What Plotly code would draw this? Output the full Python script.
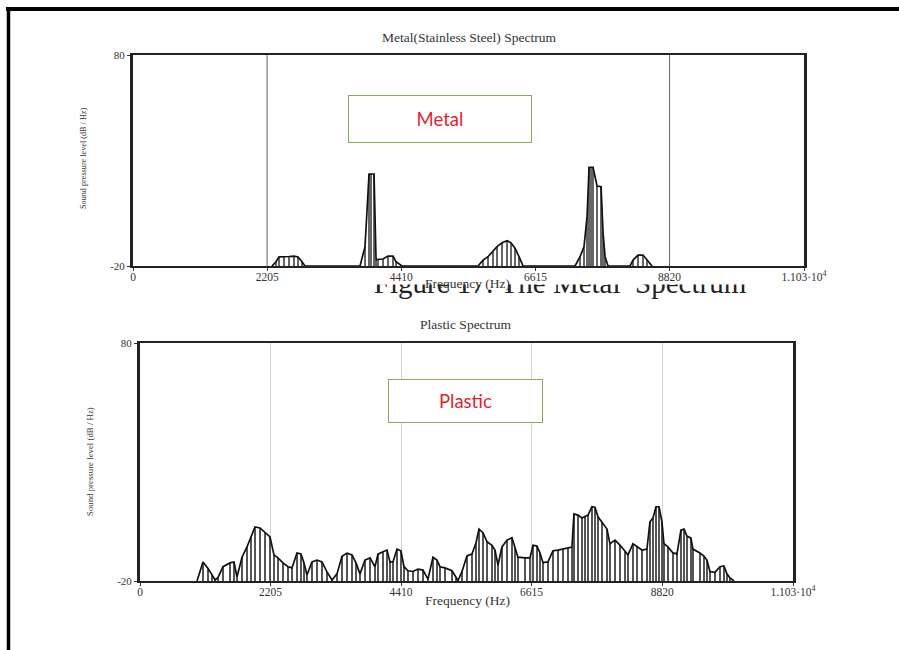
import plotly.graph_objects as go

W, H = 899, 650

# ---------------- data ----------------
x_tick_vals = [0, 2205, 4410, 6615, 8820, 11030]
x_tick_text = ["0", "2205", "4410", "6615", "8820", "1.103·10<sup>4</sup>"]
y_tick_vals = [-20, 80]
y_tick_text = ["-20", "80"]
metal_grid = [2205, 8820]

metal_freq = [2285, 2351, 2400, 2482, 2565, 2647, 2713, 2778, 2828,
              3732, 3814, 3880, 3913, 3962, 3995, 4028, 4110, 4192, 4274, 4324, 4422,
              5672, 5754, 5836, 5918, 5984, 6066, 6149, 6214, 6280, 6346, 6412,
              7266, 7349, 7414, 7464, 7497, 7530, 7562, 7628, 7694, 7727, 7760, 7809,
              8171, 8220, 8302, 8384, 8450, 8532]
metal_db = [-20, -18, -15.7, -15.7, -15.5, -15.3, -15.7, -18, -20,
            -20, -10.8, 23.6, 23.6, 23.6, -17, -17, -16.7, -15.3, -15.3, -18, -20,
            -20, -17.2, -15.6, -13.2, -10.8, -9, -8, -9, -11.6, -15.6, -20,
            -20, -15.6, -10.8, 3.4, 26.8, 26.8, 26.8, 17.9, 17.6, -4.4, -15.6, -20,
            -20, -17.2, -14.8, -14.8, -17.2, -20]

plastic_freq = [963, 1064, 1149, 1216, 1267, 1317, 1402, 1520, 1588, 1638,
                1723, 1807, 1875, 1942, 2027, 2111, 2196, 2263, 2331, 2415,
                2500, 2567, 2652, 2719, 2770, 2821, 2905, 2990, 3074, 3158,
                3243, 3327, 3412, 3496, 3581, 3648, 3716, 3800, 3885, 3969,
                4020, 4104, 4172, 4223, 4273, 4341, 4408, 4459, 4527, 4611,
                4695, 4780, 4864, 4949, 5016, 5067, 5151, 5270, 5337, 5371,
                5439, 5523, 5607, 5675, 5726, 5793, 5861, 5945, 5996, 6047,
                6114, 6199, 6283, 6334, 6384, 6503, 6587, 6638, 6705, 6756,
                6807, 6891, 6976, 7060, 7145, 7229, 7296, 7330, 7398, 7465,
                7516, 7567, 7634, 7685, 7736, 7803, 7888, 7938, 8023, 8107,
                8192, 8242, 8327, 8394, 8479, 8563, 8614, 8665, 8715, 8766,
                8816, 8850, 8918, 9002, 9070, 9137, 9188, 9239, 9306, 9340,
                9458, 9526, 9576, 9627, 9711, 9796, 9863, 9914, 9965, 10033]
plastic_db = [-20, -12, -14.7, -17.5, -19.5, -18.6, -14, -12.4, -12, -18.3,
              -10, -5.7, -1.5, 2.7, 2.3, 0.3, -1.5, -9, -10.3, -12.4,
              -14, -14.5, -8.2, -8.6, -12.4, -17.5, -12, -11.2, -12, -16.2,
              -19.6, -17, -9.6, -8.3, -9, -12.4, -17, -11.2, -10.3, -14,
              -8.7, -7.7, -7, -12, -12, -6.6, -7.3, -14, -15.7, -16,
              -15, -15.4, -19.2, -10, -11.2, -14, -14.5, -15.7, -18.7, -19.8,
              -16, -9.5, -8.7, -4, 1.8, 0.3, -3.5, -5, -7, -13.3,
              -5.7, -2.8, -1.8, -6.1, -10, -10.3, -10.3, -5, -5.3, -8.2,
              -12.3, -12, -7.3, -7, -6.6, -6, -5.7, 8.2, 7.7, 6.5,
              7, 7.7, 11.2, 11, 7, 4.9, 1.8, -4.4, -2.8, -4.9,
              -7.7, -9, -4.4, -5.7, -7, -6.6, 4.9, 6.5, 11.2, 11.2,
              4.9, -4.3, -5.7, -8.2, -8.6, 1.4, 1.8, -1.1, -2, -6.6,
              -8.2, -9.5, -11.2, -16, -16.4, -14, -13.7, -17, -18.7, -20]

metal_title = "Metal(Stainless Steel) Spectrum"
plastic_title = "Plastic Spectrum"
x_title = "Frequency (Hz)"
y_title = "Sound pressure level (dB / Hz)"
caption = "Figure 17: The Metal  Spectrum"

# ---------------- helpers ----------------
def px(x):
    return x / W

def py(y):
    return 1 - y / H

SERIF = "Liberation Serif, Times New Roman, serif"
Y0 = y_tick_vals[0]

fig = go.Figure()

def add_spectrum(freq, db, xa, ya, stem_color):
    fig.add_trace(go.Bar(x=freq, y=[v - Y0 for v in db], base=Y0, width=8,
                         marker=dict(color=stem_color, line=dict(width=0)),
                         xaxis=xa, yaxis=ya, showlegend=False, hoverinfo="skip"))
    fig.add_trace(go.Scatter(x=freq, y=db, mode="lines",
                             line=dict(color="#111111", width=1.7),
                             xaxis=xa, yaxis=ya, showlegend=False, hoverinfo="skip"))

add_spectrum(metal_freq, metal_db, "x", "y", "#666666")
add_spectrum(plastic_freq, plastic_db, "x2", "y2", "#555555")

# caption whose upper part is hidden: text clipped by its own (invisible) subplot
fig.add_trace(go.Scatter(x=[0.5], y=[0.96], mode="text", text=[caption],
                         textposition="middle center", cliponaxis=True,
                         textfont=dict(family=SERIF, size=29, color="#222222"),
                         xaxis="x3", yaxis="y3", showlegend=False, hoverinfo="skip"))

axis_common = dict(range=[0, 11030], tickvals=x_tick_vals, ticktext=x_tick_text,
                   showline=True, mirror=True, linecolor="#222222", linewidth=2,
                   ticks="outside", ticklen=3, tickcolor="#333333", tickwidth=1,
                   ticklabelstandoff=-4,
                   tickfont=dict(family=SERIF, size=11.5, color="#333333"),
                   zeroline=False, fixedrange=True, automargin=False)
yaxis_common = dict(range=[-20, 80], tickvals=y_tick_vals, ticktext=y_tick_text,
                    showline=True, mirror=True, linecolor="#222222", linewidth=3,
                    ticks="outside", ticklen=3, tickcolor="#333333", tickwidth=1,
                    tickfont=dict(family=SERIF, size=11, color="#333333"),
                    showgrid=False, zeroline=False, fixedrange=True, automargin=False)

shapes = []
for g in metal_grid:
    shapes.append(dict(type="line", xref="x", yref="y domain", x0=g, x1=g, y0=0, y1=1,
                       line=dict(color="#666666", width=1), layer="below"))
# outer frame (top & left)
shapes.append(dict(type="line", xref="paper", yref="paper", x0=px(6), x1=1.0,
                   y0=py(9), y1=py(9), line=dict(color="black", width=4)))
shapes.append(dict(type="line", xref="paper", yref="paper", x0=px(8.5), x1=px(8.5),
                   y0=0, y1=py(7), line=dict(color="black", width=3.5)))

ann = []
def text_ann(txt, x, y, size, angle=0, color="#333333", family=SERIF):
    ann.append(dict(text=txt, x=px(x), y=py(y), xref="paper", yref="paper",
                    showarrow=False, xanchor="center", yanchor="middle",
                    textangle=angle, font=dict(family=family, size=size, color=color)))

text_ann(metal_title, 469, 38, 13.5)
text_ann(plastic_title, 466, 324, 13.5)
text_ann(x_title, 467, 283, 13.5)
text_ann(x_title, 468, 600, 13.5)
text_ann(y_title, 83, 159, 8.2, angle=-90)
text_ann(y_title, 90, 462, 8.8, angle=-90)

def box_ann(txt, x0, y0, x1, y1):
    ann.append(dict(text=txt, x=px((x0 + x1) / 2), y=py((y0 + y1) / 2),
                    xref="paper", yref="paper", showarrow=False,
                    xanchor="center", yanchor="middle",
                    width=x1 - x0 - 2, height=y1 - y0 - 2,
                    bordercolor="#86aa5a", borderwidth=1, bgcolor="white",
                    font=dict(family="Lato, Open Sans, sans-serif", size=18.5,
                              color="#e0262d")))

box_ann("Metal", 349, 96, 531, 142)
box_ann("Plastic", 389, 380, 542, 422)

fig.update_layout(
    template="none",
    width=W, height=H, autosize=False,
    margin=dict(l=0, r=0, t=0, b=0, pad=0, autoexpand=False),
    paper_bgcolor="white", plot_bgcolor="white",
    bargap=0, showlegend=False,
    xaxis=dict(domain=[px(133), px(804)], anchor="y", showgrid=False, **axis_common),
    yaxis=dict(domain=[py(266), py(55)], anchor="x", **yaxis_common),
    xaxis2=dict(domain=[px(140), px(793)], anchor="y2", showgrid=True,
                gridcolor="#d4d4d4", gridwidth=1, **axis_common),
    yaxis2=dict(domain=[py(581), py(343)], anchor="x2", **yaxis_common),
    xaxis3=dict(domain=[px(340), px(780)], anchor="y3", range=[0, 1], visible=False,
                fixedrange=True, automargin=False),
    yaxis3=dict(domain=[py(306), py(284.5)], anchor="x3", range=[0, 1], visible=False,
                fixedrange=True, automargin=False),
    shapes=shapes,
    annotations=ann,
)

post = ("document.body.style.margin='0px';"
        "document.body.style.overflow='hidden';")

fig.write_html("out.html", config={"displayModeBar": False}, post_script=post)
